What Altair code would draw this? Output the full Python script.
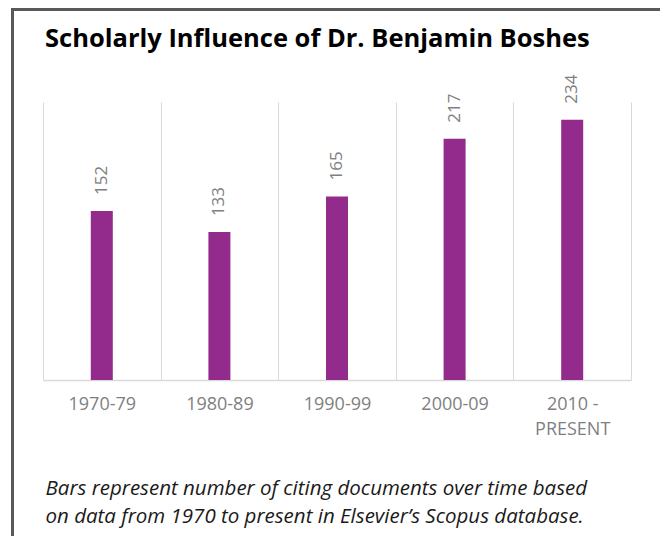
import altair as alt
import pandas as pd

periods = ["1970-79", "1980-89", "1990-99", "2000-09", "2010 - PRESENT"]
citations = [152, 133, 165, 217, 234]
title_text = "Scholarly Influence of Dr. Benjamin Boshes"
caption_lines = [
    "Bars represent number of citing documents over time based",
    "on data from 1970 to present in Elsevier\u2019s Scopus database.",
]

df = pd.DataFrame({"period": periods, "citations": citations})

W, H = 588, 278
FONT = "Open Sans"

x_enc = alt.X(
    "period:N",
    sort=periods,
    scale=alt.Scale(paddingInner=0.0, paddingOuter=0.0),
    axis=alt.Axis(
        title=caption_lines,
        titleFont=FONT,
        titleFontSize=20.5,
        titleFontStyle="italic",
        titleFontWeight="normal",
        titleColor="#1a1a1a",
        titleAlign="left",
        titleAnchor="start",
        titleBaseline="alphabetic",
        titleX=2,
        titleY=114,
        titleLineHeight=28,
        labelAngle=0,
        labelFont=FONT,
        labelFontSize=18,
        labelColor="#7f7f7f",
        labelPadding=15,
        labelLineHeight=25,
        labelExpr="datum.label == '2010 - PRESENT' ? ['2010 -', 'PRESENT'] : datum.label",
        ticks=False,
        tickBand="extent",
        grid=True,
        gridColor="#d9d9d9",
        gridWidth=1,
        domainColor="#d9d9d9",
        domainWidth=1.5,
    ),
)
y_enc = alt.Y("citations:Q", scale=alt.Scale(domain=[0, 250], nice=False), axis=None)

base = alt.Chart(df)

bars = base.mark_bar(color="#922B8C", width=22).encode(x=x_enc, y=y_enc)

labels = base.mark_text(
    angle=270, align="left", baseline="middle", yOffset=-16,
    font=FONT, fontSize=17, color="#7f7f7f",
).encode(x=alt.X("period:N", sort=periods), y=y_enc, text="citations:Q")

border = alt.Chart(alt.Data(values=[{}])).mark_rect(
    fill=None, stroke="#595959", strokeWidth=3
).encode(
    x=alt.value(-30.5), x2=alt.value(618.5),
    y=alt.value(-92.5), y2=alt.value(460),
)

chart = alt.layer(border, bars, labels).properties(
    width=W, height=H,
    title=alt.TitleParams(
        text=title_text, anchor="start", frame="group", orient="top",
        font=FONT, fontSize=25.5, fontWeight="bold", color="#000000",
        baseline="alphabetic", offset=-64, dx=2,
    ),
    autosize=alt.AutoSizeParams(type="none"),
    padding={"left": 35, "top": 94, "right": 29, "bottom": 156},
).configure_view(stroke=None)

chart.save("out.html", embed_options={"renderer": "svg", "actions": False})
